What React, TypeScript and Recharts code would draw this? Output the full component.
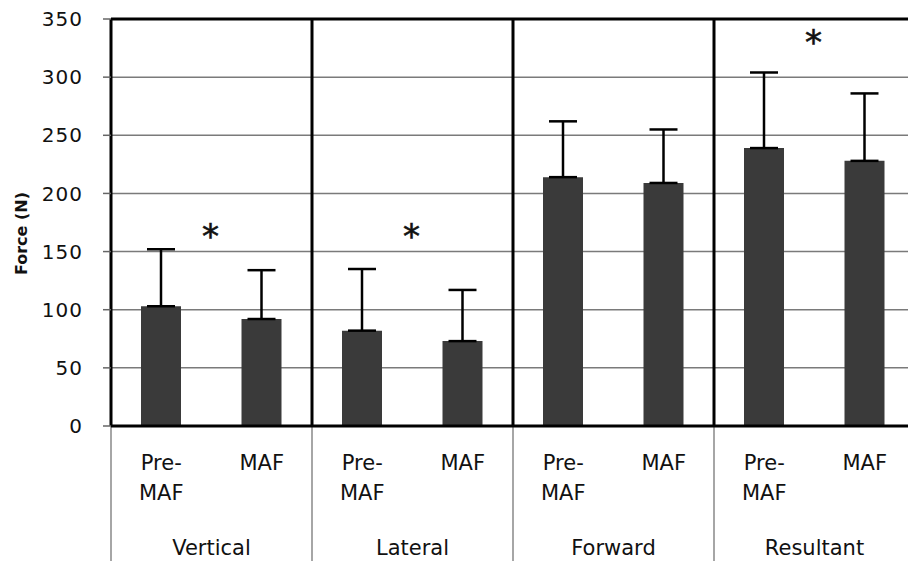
import { ComposedChart, Bar, ErrorBar, XAxis, YAxis, CartesianGrid, ReferenceLine, Scatter } from 'recharts'

const groups = ['Vertical', 'Lateral', 'Forward', 'Resultant']
const conditions = ['Pre-MAF', 'MAF']
const means = [103, 92, 82, 73, 214, 209, 239, 228]
const sdUpper = [49, 42, 53, 44, 48, 46, 65, 58]
const yTicks = [0, 50, 100, 150, 200, 250, 300, 350]

// asterisks sit between the two bars of a group (group axis runs 0..8)
const starX = [1, 3, 7]
const starY = [167, 167, 334]

const data = means.map((m, i) => ({
  key: `${groups[Math.floor(i / 2)]}-${conditions[i % 2]}`,
  cond: conditions[i % 2],
  value: m,
  err: [0, sdUpper[i]],
}))

const stars = starX.map((x, i) => ({ x, y: starY[i] }))
const groupTicks = groups.map((_, i) => i * 2 + 1)
const dividers = [2, 4, 6, 8]
const separators = [0, 2, 4, 6]

const FONT = '"DejaVu Sans", Verdana, sans-serif'

function CondTick({ x, y, payload }: any) {
  const cond = data[payload.index]?.cond
  const lines = cond === 'Pre-MAF' ? ['Pre-', 'MAF'] : ['MAF']
  return (
    <g>
      {lines.map((l, i) => (
        <text key={i} x={x} y={y} dy={44 + i * 30} textAnchor="middle" fontSize={21} fill="#111" fontFamily={FONT}>{l}</text>
      ))}
    </g>
  )
}

function GroupTick({ x, y, payload }: any) {
  const name = groups[(payload.value - 1) / 2]
  return (
    <text x={x} y={y} dy={34} textAnchor="middle" fontSize={21} fill="#111" fontFamily={FONT}>{name}</text>
  )
}

function Star({ cx, cy }: any) {
  return (
    <text x={cx - 1} y={cy} dy={16} textAnchor="middle" fontSize={34} fill="#111" stroke="#111" strokeWidth={0.6}
      fontFamily={FONT}>*</text>
  )
}

export default function App() {
  return (
    <div style={{ position: 'absolute', left: 0, top: 0, width: 908, height: 561, overflow: 'hidden', background: '#fff' }}>
      <ComposedChart width={920} height={561} data={data} margin={{ top: 19, right: 5, left: 0, bottom: 0 }} style={{ fontFamily: FONT }}>
        <CartesianGrid xAxisId="cat" vertical={false} stroke="#7a7a7a" strokeWidth={1.5} />
        <XAxis xAxisId="cat" dataKey="key" height={95} tick={<CondTick />} tickLine={false} tickSize={0} tickMargin={0}
          axisLine={{ stroke: '#000', strokeWidth: 3 }} interval={0} />
        <XAxis xAxisId="grp" dataKey="x" type="number" domain={[0, 8]} ticks={groupTicks} height={40}
          tick={<GroupTick />} tickLine={false} tickSize={0} tickMargin={0} axisLine={false} allowDataOverflow />
        <YAxis domain={[0, 350]} ticks={yTicks} width={111} tickSize={8} tickMargin={20}
          tick={{ fontSize: 20, fill: '#111', fontFamily: FONT, letterSpacing: 1 }}
          tickLine={{ stroke: '#666', strokeWidth: 1.5 }} axisLine={{ stroke: '#000', strokeWidth: 3 }}
          label={{
            content: ({ viewBox }: any) => {
              const cx = viewBox.x + 21
              const cy = viewBox.y + viewBox.height / 2 + 11
              return (
                <text x={cx} y={cy} transform={`rotate(-90 ${cx} ${cy})`} textAnchor="middle" dominantBaseline="central"
                  fontSize={16} fontWeight="bold" fill="#111" fontFamily={FONT}>Force (N)</text>
              )
            },
          }} />
        <Bar xAxisId="cat" dataKey="value" fill="#3a3a3a" barSize={40} isAnimationActive={false}>
          <ErrorBar dataKey="err" direction="y" width={14} stroke="#000" strokeWidth={2.5} isAnimationActive={false} />
        </Bar>
        <ReferenceLine xAxisId="grp" y={350} stroke="#000" strokeWidth={3} />
        {dividers.map(d => (
          <ReferenceLine key={`d${d}`} xAxisId="grp" x={d} stroke="#000" strokeWidth={3} />
        ))}
        {separators.map(s => (
          <ReferenceLine key={`s${s}`} xAxisId="grp" ifOverflow="visible" stroke="#888" strokeWidth={1.5}
            segment={[{ x: s, y: 0 }, { x: s, y: -130 }]} />
        ))}
        <Scatter xAxisId="grp" data={stars} dataKey="y" shape={<Star />} isAnimationActive={false} />
      </ComposedChart>
    </div>
  )
}
